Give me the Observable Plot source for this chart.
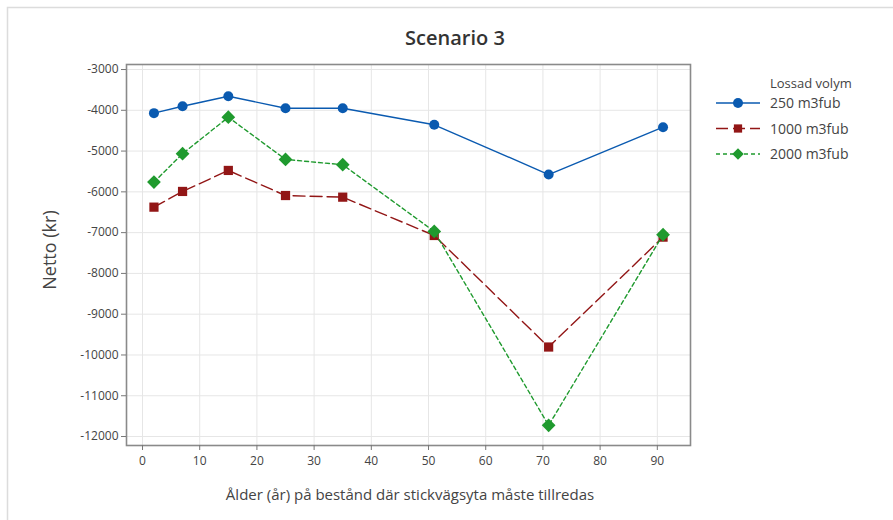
<!DOCTYPE html>
<html>
<head>
<meta charset="utf-8">
<script src="https://cdn.jsdelivr.net/npm/d3@7"></script>
<script src="https://cdn.jsdelivr.net/npm/@observablehq/plot@0.6"></script>
<style>
  html, body { margin: 0; padding: 0; background: #fff; }
  svg { display: block; }
</style>
</head>
<body>
<div id="chart"></div>
<script>
const ages = [2, 7, 15, 25, 35, 51, 71, 91];
const series = ["250 m3fub", "1000 m3fub", "2000 m3fub"];
const v250 = [-4070, -3900, -3655, -3950, -3950, -4355, -5575, -4415];
const v1000 = [-6375, -5990, -5475, -6090, -6130, -7070, -9805, -7110];
const v2000 = [-5760, -5065, -4170, -5205, -5335, -6970, -11725, -7050];
const yTicks = [-3000, -4000, -5000, -6000, -7000, -8000, -9000, -10000, -11000, -12000];
const xTicks = [0, 10, 20, 30, 40, 50, 60, 70, 80, 90];
const colors = ["#0a5ab0", "#921616", "#1f9a2e"];
const symbols = ["circle", "square", "diamond2"];
const dashes = [null, "12,5", "4,3"];
const radii = [5, 5.2, 6.2];

const rows = [];
[v250, v1000, v2000].forEach((vals, si) => {
  vals.forEach((v, i) => rows.push({ series: series[si], age: ages[i], value: v, si }));
});

const font = "'Open Sans', 'Noto Sans', sans-serif";

const marks = [
  Plot.gridX(xTicks, { stroke: "#e6e6e6", strokeOpacity: 1, strokeWidth: 1 }),
  Plot.gridY(yTicks, { stroke: "#e6e6e6", strokeOpacity: 1, strokeWidth: 1 }),
  Plot.frame({ stroke: "#8a8a8a", strokeWidth: 1.6 }),
  Plot.axisX(xTicks, { tickSize: 5, tickPadding: 6, stroke: "#777", fill: "#444", fontSize: 12, label: null }),
  Plot.axisY(yTicks, { tickSize: 5, tickPadding: 3, stroke: "#777", fill: "#444", fontSize: 12, label: null, tickFormat: d => String(d) })
];
series.forEach((s, si) => {
  const d = rows.filter(r => r.si === si);
  marks.push(Plot.line(d, { x: "age", y: "value", stroke: colors[si], strokeWidth: 1.4, strokeDasharray: dashes[si] }));
  marks.push(Plot.dot(d, { x: "age", y: "value", symbol: () => symbols[si], fill: colors[si], r: radii[si], stroke: "none" }));
});

const chart = Plot.plot({
  width: 893,
  height: 520,
  marginLeft: 126,
  marginRight: 203,
  marginTop: 64,
  marginBottom: 75,
  style: { fontFamily: font, background: "#fff", overflow: "visible" },
  x: { domain: [-2.8, 95.8], label: null },
  y: { domain: [-12220, -2877], label: null },
  symbol: { type: "identity" },
  marks
});

const svg = d3.select(chart);
// outer border
svg.insert("rect", ":first-child")
  .attr("x", 7.5).attr("y", 7.5).attr("width", 893).attr("height", 520)
  .attr("fill", "none").attr("stroke", "#dcdcdc").attr("stroke-width", 1.5);
// title
svg.append("text").attr("x", 455).attr("y", 45).attr("text-anchor", "middle")
  .attr("font-family", font).attr("font-size", 20).attr("font-weight", 600).attr("fill", "#333")
  .text("Scenario 3");
// axis labels
svg.append("text").attr("x", 410).attr("y", 500).attr("text-anchor", "middle")
  .attr("font-family", font).attr("font-size", 15).attr("fill", "#444")
  .text("Ålder (år) på bestånd där stickvägsyta måste tillredas");
svg.append("text").attr("transform", "translate(56,250) rotate(-90)").attr("text-anchor", "middle")
  .attr("font-family", font).attr("font-size", 18).attr("fill", "#444")
  .text("Netto (kr)");
// legend
const lg = svg.append("g").attr("font-family", font).attr("font-size", 14).attr("fill", "#444").attr("text-anchor", "start");
lg.append("text").attr("x", 770).attr("y", 88).attr("font-size", 13).attr("text-anchor", "start").text("Lossad volym");
const symGen = { circle: d3.symbolCircle, square: d3.symbolSquare, diamond2: d3.symbolDiamond2 };
series.forEach((s, si) => {
  const y = 103 + si * 25.5;
  lg.append("line").attr("x1", 716).attr("x2", 760).attr("y1", y).attr("y2", y)
    .attr("stroke", colors[si]).attr("stroke-width", 1.5).attr("stroke-dasharray", dashes[si]);
  lg.append("path").attr("transform", `translate(738,${y})`)
    .attr("d", d3.symbol(symGen[symbols[si]], Math.PI * radii[si] * radii[si] * (si === 0 ? 1 : si === 1 ? 0.8 : 0.7))())
    .attr("fill", colors[si]);
  lg.append("text").attr("x", 770).attr("y", y + 5).attr("text-anchor", "start").text(s);
});

document.getElementById("chart").appendChild(chart);
</script>
</body>
</html>
